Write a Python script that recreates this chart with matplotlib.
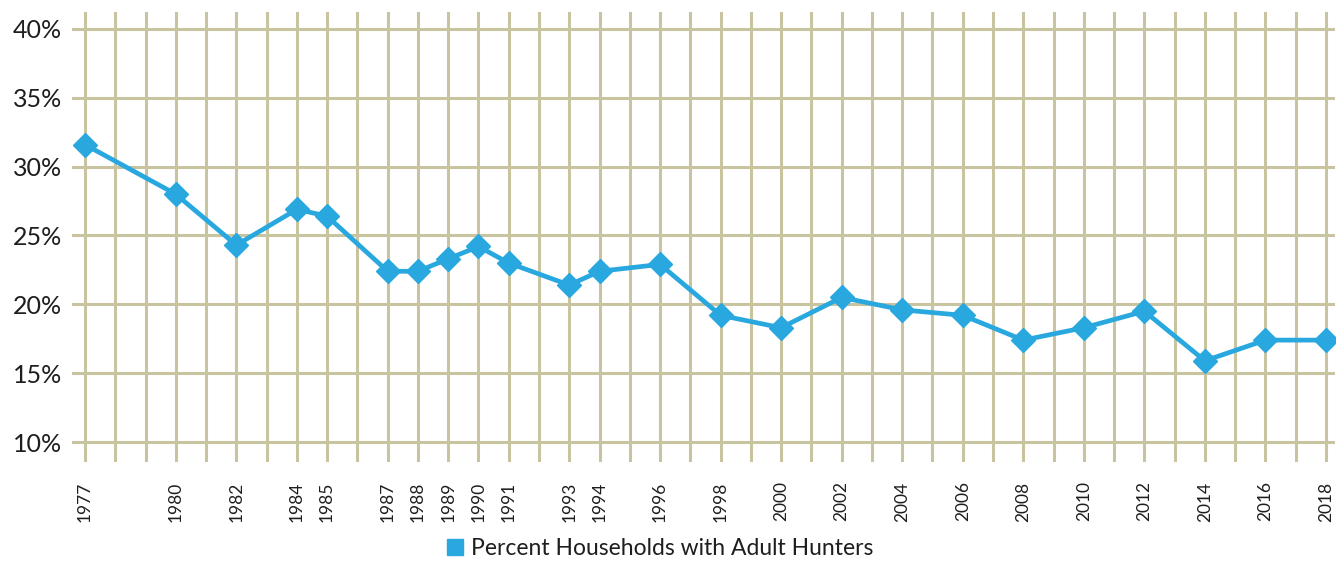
import matplotlib
matplotlib.use('Agg')
import matplotlib.pyplot as plt
from matplotlib.lines import Line2D

# Datos
años = [1977, 1980, 1982, 1984, 1985, 1987, 1988, 1989, 1990, 1991, 1993, 1994,
        1996, 1998, 2000, 2002, 2004, 2006, 2008, 2010, 2012, 2014, 2016, 2018]
porcentaje = [31.6, 28.0, 24.3, 26.9, 26.4, 22.4, 22.4, 23.3, 24.2, 23.0, 21.4, 22.4,
              22.9, 19.2, 18.3, 20.5, 19.6, 19.2, 17.4, 18.3, 19.5, 15.9, 17.4, 17.4]
etiqueta_serie = 'Percent Households with Adult Hunters'
yticks = [10, 15, 20, 25, 30, 35, 40]

plt.rcParams['font.family'] = ['Lato', 'DejaVu Sans']

azul = '#29a8e0'
grilla = '#c8c4a0'
texto = '#1e1e1e'

fig = plt.figure(figsize=(13.4, 5.61), dpi=100)
ax = fig.add_axes([0.0537, 0.1765, 0.9426, 0.8021])

ax.plot(años, porcentaje, color=azul, linewidth=3.4, marker='D',
        markersize=12, zorder=3)

# todas las líneas verticales (un año cada una), etiquetas solo en años con dato
todos = list(range(1977, 2019))
ax.set_xticks(todos)
ax.set_xticklabels([str(a) if a in años else '' for a in todos],
                   rotation=90, fontsize=12.5, color=texto)
ax.set_yticks(yticks)
ax.set_yticklabels([f'{v}%' for v in yticks], fontsize=18, color=texto)
ax.tick_params(length=0, pad=7)
ax.tick_params(axis='x', pad=14)

ax.set_xlim(1976.57, 2018.3)
ax.set_ylim(8.55, 41.23)
ax.grid(True, color=grilla, linewidth=2.2)
ax.set_axisbelow(True)
for s in ax.spines.values():
    s.set_visible(False)

handle = Line2D([], [], marker='s', color='none', markerfacecolor=azul,
                markeredgecolor=azul, markersize=12)
fig.legend([handle], [etiqueta_serie], loc='center', bbox_to_anchor=(0.492, 0.022),
           frameon=False, fontsize=16.5, handlelength=0.8, handletextpad=0.3,
           labelcolor=texto)

fig.savefig('out.png', dpi=100)
